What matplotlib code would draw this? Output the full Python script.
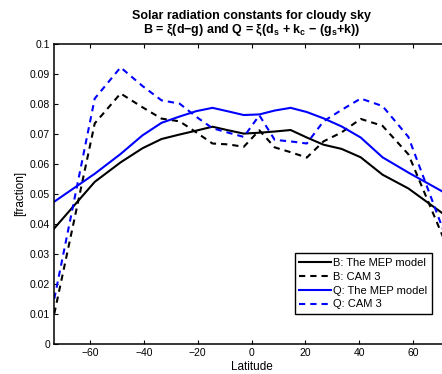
import matplotlib
matplotlib.use("Agg")
import matplotlib.pyplot as plt
from matplotlib.ticker import FixedLocator, FixedFormatter

plt.rcParams["font.family"] = ["Liberation Sans", "DejaVu Sans"]
plt.rcParams["mathtext.fontset"] = "custom"
plt.rcParams["mathtext.rm"] = "Liberation Sans:bold"
plt.rcParams["mathtext.it"] = "Liberation Sans:bold"
plt.rcParams["mathtext.bf"] = "Liberation Sans:bold"

# Latitude band centres (degrees)
lat = [-73.2, -58.2, -48.6, -40.5, -33.4, -26.7, -20.5, -14.5, -8.6, -2.9,
       2.9, 8.6, 14.5, 20.5, 26.7, 33.4, 40.5, 48.6, 58.2, 73.2]

# B = xi(d - g)
b_mep = [0.0385, 0.0540, 0.0605, 0.0652, 0.0683, 0.0698, 0.0711, 0.0724, 0.0712, 0.0701,
         0.0704, 0.0708, 0.0713, 0.0688, 0.0664, 0.0650, 0.0622, 0.0564, 0.0518, 0.0420]
b_cam3 = [0.0100, 0.0735, 0.0835, 0.0789, 0.0751, 0.0742, 0.0705, 0.0668, 0.0665, 0.0657,
          0.0712, 0.0655, 0.0639, 0.0621, 0.0675, 0.0705, 0.0750, 0.0727, 0.0632, 0.0310]

# Q = xi(d_s + k_c - (g_s + k))
q_mep = [0.0474, 0.0567, 0.0633, 0.0695, 0.0737, 0.0758, 0.0776, 0.0787, 0.0775, 0.0763,
         0.0765, 0.0778, 0.0787, 0.0773, 0.0752, 0.0725, 0.0688, 0.0622, 0.0571, 0.0496]
q_cam3 = [0.0150, 0.0818, 0.0922, 0.0860, 0.0812, 0.0801, 0.0757, 0.0719, 0.0704, 0.0690,
          0.0762, 0.0680, 0.0675, 0.0668, 0.0742, 0.0780, 0.0818, 0.0793, 0.0690, 0.0330]

series_labels = ["B: The MEP model", "B: CAM 3", "Q: The MEP model", "Q: CAM 3"]

x_ticks = [-60, -40, -20, 0, 20, 40, 60]
y_ticks = [0, 0.01, 0.02, 0.03, 0.04, 0.05, 0.06, 0.07, 0.08, 0.09, 0.1]
y_tick_labels = ["0", "0.01", "0.02", "0.03", "0.04", "0.05", "0.06", "0.07",
                 "0.08", "0.09", "0.1"]

W, H = 442, 374
fig = plt.figure(figsize=(W / 100, H / 100), dpi=100)
# the axes run a little past the right edge of the canvas
left, right, top, bottom = 54.3, 448.8, 44.0, 343.7
ax = fig.add_axes([left / W, 1 - bottom / H, (right - left) / W, (bottom - top) / H])

lw = 1.5
dash = (3.0, 2.4)
ax.plot(lat, b_mep, color="black", lw=lw, label=series_labels[0])
ax.plot(lat, b_cam3, color="black", lw=lw, dashes=dash, label=series_labels[1])
ax.plot(lat, q_mep, color="blue", lw=lw, label=series_labels[2])
ax.plot(lat, q_cam3, color="blue", lw=lw, dashes=dash, label=series_labels[3])

ax.set_xlim(-73.2, 73.2)
ax.set_ylim(0, 0.1)
ax.xaxis.set_major_locator(FixedLocator(x_ticks))
ax.yaxis.set_major_locator(FixedLocator(y_ticks))
ax.yaxis.set_major_formatter(FixedFormatter(y_tick_labels))
ax.tick_params(direction="in", length=3, width=0.8, labelsize=7.5, pad=3,
               top=True, right=True, colors="black")
for s in ax.spines.values():
    s.set_linewidth(1.1)

ax.set_xlabel("Latitude", fontsize=8.5, labelpad=2)
ax.set_ylabel("[fraction]", fontsize=8.5, labelpad=3)
ax.set_title("Solar radiation constants for cloudy sky\n"
             r"B = ξ(d−g) and Q = ξ(d$_{\mathrm{s}}$ + k$_{\mathrm{c}}$ − (g$_{\mathrm{s}}$+k))",
             fontsize=9, fontweight="bold", pad=8, linespacing=1.0)

leg = ax.legend(loc="upper left", bbox_to_anchor=(295 / W, 1 - 253.3 / H),
                bbox_transform=fig.transFigure, borderaxespad=0, fontsize=8,
                frameon=True, fancybox=False, framealpha=1, edgecolor="black",
                handlelength=2.8, handletextpad=0.25, labelspacing=0.35,
                borderpad=0.4)
leg.get_frame().set_linewidth(1.0)

fig.savefig("out.png", dpi=100)
